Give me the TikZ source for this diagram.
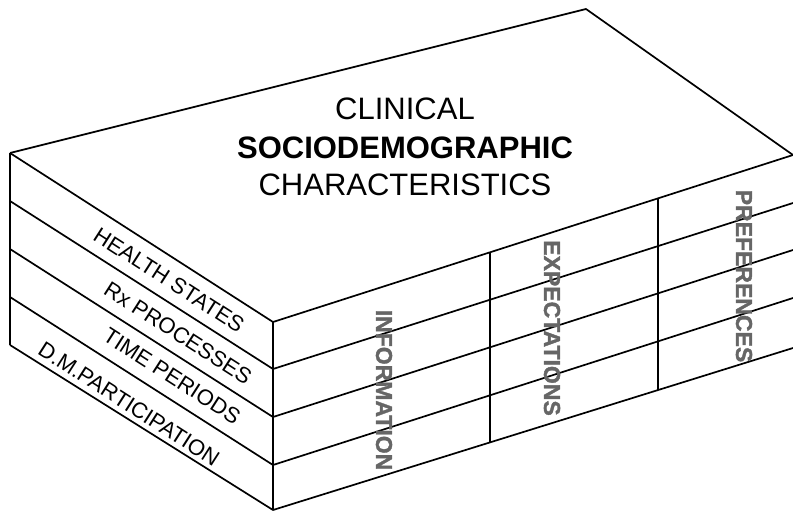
\documentclass[tikz,border=0pt]{standalone}
\usepackage{fontspec}
\setmainfont{Liberation Sans}
\newfontfamily\colfont[FakeBold=1.5]{Liberation Sans Bold}
\usepackage{tikz}
\usetikzlibrary{calc}

\tikzset{
	edgeline/.style={line width=1.7pt, line join=round},
	title/.style={anchor=base, inner sep=0pt, font=\fontsize{31}{37}\selectfont},
	layer/.style={rotate=-32.7, inner sep=0pt, font=\fontsize{22}{24}\selectfont},
	column/.style={rotate=-90, inner sep=0pt, text=black!60, font={\colfont\fontsize{23}{26}\selectfont}}
}

\begin{document}
\begin{tikzpicture}[x=1pt, y=-1pt]
	\useasboundingbox (0,0) rectangle (793,511);
	% corners of the layers: left edge, front edge, right edge
	\foreach \i/\l/\f/\r in {0/153/322/155, 1/201/369/203, 2/249/417/250, 3/297/465/298, 4/345/510/348}
	{
		\coordinate (l\i) at (10,\l);
		\coordinate (f\i) at (273,\f);
		\coordinate (r\i) at (793,\r);
		\draw[edgeline] (l\i) -- (f\i) -- (r\i);
	}
	\coordinate (back) at (586,9);
	\draw[edgeline] (l0) -- (back) -- (r0);
	\draw[edgeline] (l0) -- (l4);
	\draw[edgeline] (f0) -- (f4);
	% column dividers on the right face
	\foreach \p in {0.417, 0.740}
		\draw[edgeline] ($(f0)!\p!(r0)$) -- ($(f4)!\p!(r4)$);

	\node[title] (clinical) at (405,120) {CLINICAL};
	\node[title] (socio) at (405,158) {\bfseries SOCIODEMOGRAPHIC};
	\node[title] (chars) at (405,195) {CHARACTERISTICS};

	\node[layer] (health) at (169,280) {HEALTH STATES};
	\node[layer] (rx) at (178,333) {Rx PROCESSES};
	\node[layer] (time) at (172,376) {TIME PERIODS};
	\node[layer] (dm) at (129,404) {D.M.PARTICIPATION};

	\node[column] (info) at (384,390) {INFORMATION};
	\node[column] (expect) at (552,328) {EXPECTATIONS};
	\node[column] (pref) at (744,276) {PREFERENCES};
\end{tikzpicture}
\end{document}
